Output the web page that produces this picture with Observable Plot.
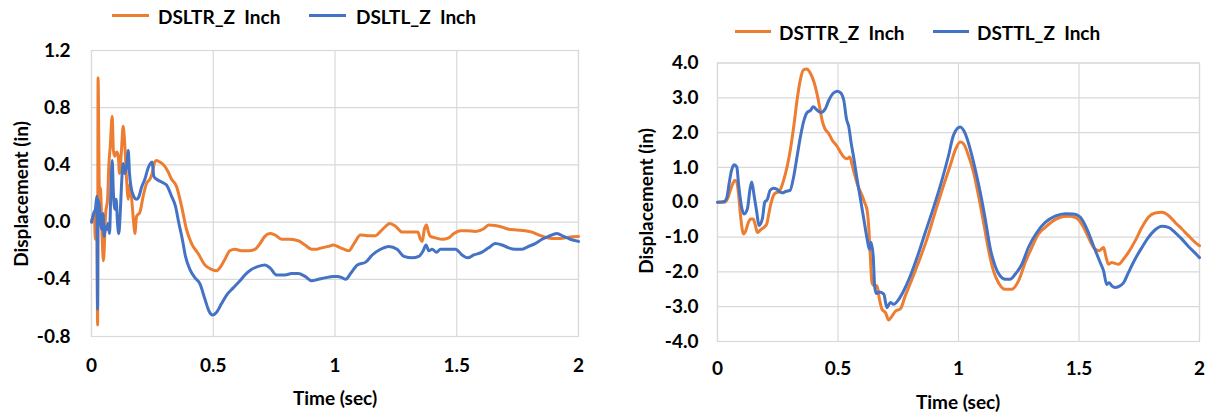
<!DOCTYPE html>
<html>
<head>
<meta charset="utf-8">
<script src="https://cdn.jsdelivr.net/npm/d3@7"></script>
<script src="https://cdn.jsdelivr.net/npm/@observablehq/plot@0.6"></script>
<style>
  html, body { margin: 0; padding: 0; background: #fff; }
  #wrap { position: relative; width: 1214px; height: 415px; overflow: hidden;
          font-family: Lato, "Open Sans", sans-serif; font-weight: bold; font-size: 19px; color: #000; }
  .chart { position: absolute; top: 0; }
  .key { position: absolute; height: 3px; }
  .lab { position: absolute; white-space: pre; line-height: 1; transform: translateY(-50%); }
  .title { position: absolute; white-space: pre; line-height: 1; transform: translate(-50%, -50%); }
  .ytitle { position: absolute; white-space: pre; line-height: 1; transform: translate(-50%, -50%) rotate(-90deg); }
</style>
</head>
<body>
<div id="wrap">
  <div id="left" class="chart" style="left:0px"></div>
  <div id="right" class="chart" style="left:610px"></div>

  <div class="key" style="left:112px; width:37px; top:14px; background:#ED7D31"></div>
  <div class="lab" style="left:158px; top:16px">DSLTR_Z  Inch</div>
  <div class="key" style="left:309px; width:37px; top:14px; background:#4472C4"></div>
  <div class="lab" style="left:356px; top:16px">DSLTL_Z  Inch</div>

  <div class="key" style="left:735px; width:36px; top:30px; background:#ED7D31"></div>
  <div class="lab" style="left:779px; top:32px">DSTTR_Z  Inch</div>
  <div class="key" style="left:933px; width:36px; top:30px; background:#4472C4"></div>
  <div class="lab" style="left:977px; top:32px">DSTTL_Z  Inch</div>

  <div class="ytitle" style="left:20px; top:194px">Displacement (in)</div>
  <div class="ytitle" style="left:645px; top:201px">Displacement (in)</div>
  <div class="title" style="left:335px; top:397px">Time (sec)</div>
  <div class="title" style="left:958px; top:401px">Time (sec)</div>
</div>
<script>
// Shared time axis
const timeTicks = [0, 0.5, 1, 1.5, 2];

// Longitudinal displacement, right side (DSLTR_Z, inches)
const dsltrTime = [0,0.011,0.016,0.022,0.025,0.027,0.032,0.037,0.044,0.049,
  0.058,0.066,0.071,0.077,0.085,0.090,0.096,0.104,0.110,0.115,
  0.123,0.130,0.137,0.144,0.151,0.158,0.164,0.173,0.178,0.185,
  0.199,0.212,0.226,0.240,0.249,0.260,0.267,0.281,0.301,0.315,
  0.329,0.349,0.370,0.390,0.411,0.438,0.466,0.493,0.514,0.527,
  0.548,0.568,0.589,0.616,0.644,0.671,0.692,0.712,0.733,0.753,
  0.781,0.808,0.849,0.877,0.904,0.925,0.945,0.973,0.993,1.023,
  1.057,1.078,1.105,1.133,1.167,1.187,1.208,1.225,1.249,1.276,
  1.310,1.340,1.351,1.358,1.367,1.376,1.383,1.392,1.413,1.440,
  1.467,1.488,1.515,1.542,1.577,1.611,1.631,1.658,1.686,1.713,
  1.747,1.781,1.809,1.836,1.863,1.891,1.925,1.959,2.0];
const dsltrInch = [0.00,0.06,-0.12,0.06,-0.72,1.01,0.25,0.23,-0.12,-0.27,
  0.06,0.16,0.39,0.53,0.74,0.50,0.46,0.49,0.46,0.34,
  0.50,0.67,0.53,0.30,0.16,0.27,0.18,0.00,-0.08,0.04,
  0.07,0.18,0.27,0.30,0.34,0.42,0.43,0.42,0.39,0.35,
  0.30,0.25,0.11,-0.05,-0.15,-0.22,-0.30,-0.33,-0.34,-0.32,
  -0.26,-0.20,-0.19,-0.20,-0.20,-0.19,-0.15,-0.10,-0.08,-0.09,
  -0.12,-0.12,-0.13,-0.16,-0.19,-0.19,-0.18,-0.17,-0.16,-0.18,
  -0.20,-0.15,-0.09,-0.095,-0.095,-0.065,-0.03,-0.01,-0.03,-0.07,
  -0.07,-0.07,-0.12,-0.135,-0.05,-0.02,-0.065,-0.10,-0.11,-0.12,
  -0.11,-0.08,-0.06,-0.06,-0.065,-0.047,-0.02,-0.023,-0.035,-0.05,
  -0.055,-0.06,-0.07,-0.09,-0.105,-0.115,-0.115,-0.105,-0.10];

// Longitudinal displacement, left side (DSLTL_Z, inches)
const dsltlTime = [0,0.011,0.016,0.022,0.025,0.027,0.032,0.036,0.041,0.047,
  0.052,0.058,0.063,0.068,0.074,0.079,0.085,0.090,0.096,0.101,
  0.107,0.112,0.118,0.123,0.130,0.137,0.144,0.151,0.156,0.162,
  0.171,0.185,0.195,0.205,0.219,0.233,0.249,0.256,0.267,0.288,
  0.308,0.329,0.345,0.359,0.373,0.386,0.404,0.425,0.445,0.466,
  0.482,0.496,0.514,0.534,0.555,0.582,0.610,0.630,0.658,0.685,
  0.712,0.733,0.760,0.795,0.822,0.849,0.877,0.904,0.932,0.959,
  0.993,1.010,1.030,1.044,1.064,1.092,1.126,1.153,1.187,1.221,
  1.255,1.283,1.317,1.344,1.362,1.374,1.385,1.399,1.417,1.433,
  1.460,1.495,1.522,1.545,1.570,1.604,1.631,1.658,1.686,1.713,
  1.740,1.768,1.795,1.822,1.850,1.877,1.911,1.939,1.966,2.0];
const dsltlInch = [0.00,0.07,0.09,0.18,-0.61,0.16,0.11,0.02,-0.05,0.06,
  -0.10,-0.03,-0.05,-0.01,-0.08,0.18,0.43,0.20,0.09,0.16,
  -0.01,-0.08,0.06,0.25,0.41,0.34,0.39,0.50,0.34,0.25,
  0.19,0.16,0.18,0.24,0.30,0.38,0.42,0.32,0.30,0.28,
  0.26,0.18,0.11,-0.01,-0.12,-0.24,-0.33,-0.39,-0.43,-0.54,
  -0.62,-0.65,-0.63,-0.57,-0.51,-0.46,-0.41,-0.37,-0.33,-0.31,
  -0.30,-0.32,-0.37,-0.37,-0.36,-0.36,-0.38,-0.41,-0.40,-0.39,
  -0.38,-0.38,-0.39,-0.40,-0.36,-0.30,-0.28,-0.23,-0.19,-0.17,
  -0.19,-0.24,-0.25,-0.24,-0.20,-0.16,-0.20,-0.19,-0.21,-0.19,
  -0.19,-0.19,-0.23,-0.25,-0.23,-0.21,-0.18,-0.15,-0.16,-0.18,
  -0.19,-0.19,-0.17,-0.15,-0.12,-0.10,-0.08,-0.10,-0.12,-0.135];

// Transverse displacement, right side (DSTTR_Z, inches)
const dsttrTime = [0,0.028,0.044,0.055,0.063,0.072,0.080,0.088,0.097,0.108,
  0.117,0.128,0.138,0.148,0.156,0.166,0.179,0.193,0.204,0.214,
  0.223,0.232,0.241,0.252,0.262,0.276,0.290,0.303,0.317,0.331,
  0.345,0.356,0.370,0.386,0.400,0.414,0.425,0.434,0.445,0.462,
  0.476,0.494,0.510,0.524,0.538,0.549,0.559,0.570,0.582,0.600,
  0.610,0.621,0.628,0.634,0.641,0.651,0.662,0.672,0.683,0.697,
  0.710,0.724,0.738,0.759,0.779,0.807,0.834,0.869,0.903,0.938,
  0.966,0.986,1.007,1.021,1.041,1.062,1.083,1.104,1.124,1.145,
  1.166,1.194,1.221,1.249,1.277,1.304,1.332,1.360,1.401,1.436,
  1.463,1.491,1.519,1.539,1.567,1.585,1.602,1.611,1.622,1.636,
  1.647,1.664,1.685,1.705,1.733,1.761,1.788,1.816,1.844,1.871,
  1.899,1.927,1.954,1.982,2.0];
const dsttrInch = [0,0,0.14,0.38,0.53,0.63,0.58,0.19,-0.48,-0.91,
  -0.82,-0.58,-0.48,-0.48,-0.63,-0.87,-0.79,-0.72,-0.63,-0.29,
  0,0.19,0.27,0.29,0.38,0.67,1.06,1.54,2.21,2.98,
  3.56,3.80,3.83,3.70,3.46,3.08,2.69,2.36,2.12,1.97,
  1.78,1.63,1.44,1.30,1.25,1.30,1.06,0.77,0.48,0.19,
  0,-0.24,-0.77,-1.54,-2.31,-2.40,-2.40,-2.79,-3.08,-3.17,
  -3.38,-3.27,-3.13,-3.06,-2.69,-2.21,-1.73,-1.06,-0.29,0.48,
  1.06,1.49,1.73,1.68,1.35,0.87,0.19,-0.58,-1.35,-1.97,
  -2.31,-2.50,-2.50,-2.26,-1.73,-1.30,-0.91,-0.72,-0.50,-0.41,
  -0.40,-0.46,-0.72,-1.01,-1.35,-1.39,-1.30,-1.54,-1.78,-1.73,
  -1.75,-1.78,-1.63,-1.44,-1.11,-0.72,-0.43,-0.31,-0.29,-0.38,
  -0.58,-0.77,-0.96,-1.15,-1.25];

// Transverse displacement, left side (DSTTL_Z, inches)
const dsttlTime = [0,0.028,0.039,0.048,0.058,0.069,0.080,0.088,0.099,0.110,
  0.124,0.135,0.142,0.152,0.163,0.172,0.186,0.196,0.207,0.218,
  0.232,0.246,0.255,0.269,0.283,0.301,0.317,0.331,0.345,0.359,
  0.372,0.386,0.397,0.414,0.430,0.448,0.462,0.480,0.497,0.510,
  0.524,0.535,0.545,0.554,0.566,0.579,0.593,0.607,0.621,0.630,
  0.637,0.646,0.652,0.659,0.673,0.690,0.703,0.717,0.731,0.752,
  0.772,0.800,0.828,0.862,0.897,0.931,0.959,0.979,1.007,1.028,
  1.048,1.069,1.090,1.111,1.131,1.152,1.173,1.194,1.214,1.235,
  1.263,1.290,1.325,1.360,1.401,1.443,1.477,1.505,1.533,1.560,
  1.588,1.602,1.615,1.625,1.636,1.650,1.671,1.685,1.705,1.733,
  1.761,1.788,1.816,1.844,1.871,1.899,1.927,1.954,1.982,2.0];
const dsttlInch = [0,0.02,0.14,0.53,0.91,1.08,1.01,0.48,-0.10,-0.34,
  -0.19,0.38,0.58,0.19,-0.29,-0.67,-0.48,0,0.08,0.34,
  0.40,0.38,0.31,0.27,0.31,0.34,0.77,1.35,1.92,2.36,
  2.58,2.64,2.74,2.64,2.58,2.69,2.93,3.13,3.19,3.15,
  2.93,2.40,2.16,1.73,1.25,0.67,0.10,-0.48,-1.06,-1.35,
  -1.15,-1.54,-2.40,-2.62,-2.58,-2.64,-3.03,-2.88,-2.93,-2.79,
  -2.55,-2.12,-1.59,-0.87,-0.14,0.63,1.35,1.92,2.16,1.97,
  1.54,0.96,0.29,-0.48,-1.30,-1.83,-2.12,-2.21,-2.21,-2.07,
  -1.78,-1.30,-0.87,-0.58,-0.40,-0.33,-0.34,-0.43,-0.77,-1.25,
  -1.73,-1.97,-2.36,-2.31,-2.40,-2.45,-2.40,-2.31,-2.02,-1.63,
  -1.30,-1.01,-0.79,-0.69,-0.72,-0.87,-1.06,-1.27,-1.46,-1.59];

const longTicks = [-0.8, -0.4, 0, 0.4, 0.8, 1.2];
const transTicks = [-4, -3, -2, -1, 0, 1, 2, 3, 4];

const ORANGE = "#ED7D31";
const BLUE = "#4472C4";
const GRID = "#d9d9d9";

const rows = (t, v) => t.map((x, i) => ({t: x, v: v[i]}));

function panel({width, margin, yDomain, yTicks, xPad, yPad, first, second}) {
  return Plot.plot({
    width, height: 415,
    marginLeft: margin[3], marginRight: margin[1], marginTop: margin[0], marginBottom: margin[2],
    x: {domain: [0, 2]},
    y: {domain: yDomain},
    style: {fontFamily: 'Lato, "Open Sans", sans-serif', fontSize: "19px", fontWeight: "bold",
            color: "#000", background: "transparent", overflow: "visible"},
    marks: [
      Plot.gridX(timeTicks, {stroke: GRID, strokeOpacity: 1, strokeWidth: 1.2}),
      Plot.gridY(yTicks, {stroke: GRID, strokeOpacity: 1, strokeWidth: 1.2}),
      Plot.frame({stroke: GRID, strokeWidth: 1.2}),
      Plot.axisX(timeTicks, {tickSize: 0, tickPadding: xPad, tickFormat: d => String(d), label: null}),
      Plot.axisY(yTicks, {tickSize: 0, tickPadding: yPad, tickFormat: d => d.toFixed(1), label: null}),
      Plot.line(first, {x: "t", y: "v", stroke: ORANGE, strokeWidth: 3, curve: "monotone-x"}),
      Plot.line(second, {x: "t", y: "v", stroke: BLUE, strokeWidth: 3, curve: "monotone-x"})
    ]
  });
}

document.getElementById("left").append(panel({
  width: 600, margin: [50, 22, 79, 91], yDomain: [-0.8, 1.2], yTicks: longTicks,
  xPad: 22, yPad: 21,
  first: rows(dsltrTime, dsltrInch), second: rows(dsltlTime, dsltlInch)
}));

document.getElementById("right").append(panel({
  width: 604, margin: [62.5, 15, 74, 107], yDomain: [-4, 4], yTicks: transTicks,
  xPad: 20, yPad: 19,
  first: rows(dsttrTime, dsttrInch), second: rows(dsttlTime, dsttlInch)
}));
</script>
</body>
</html>
